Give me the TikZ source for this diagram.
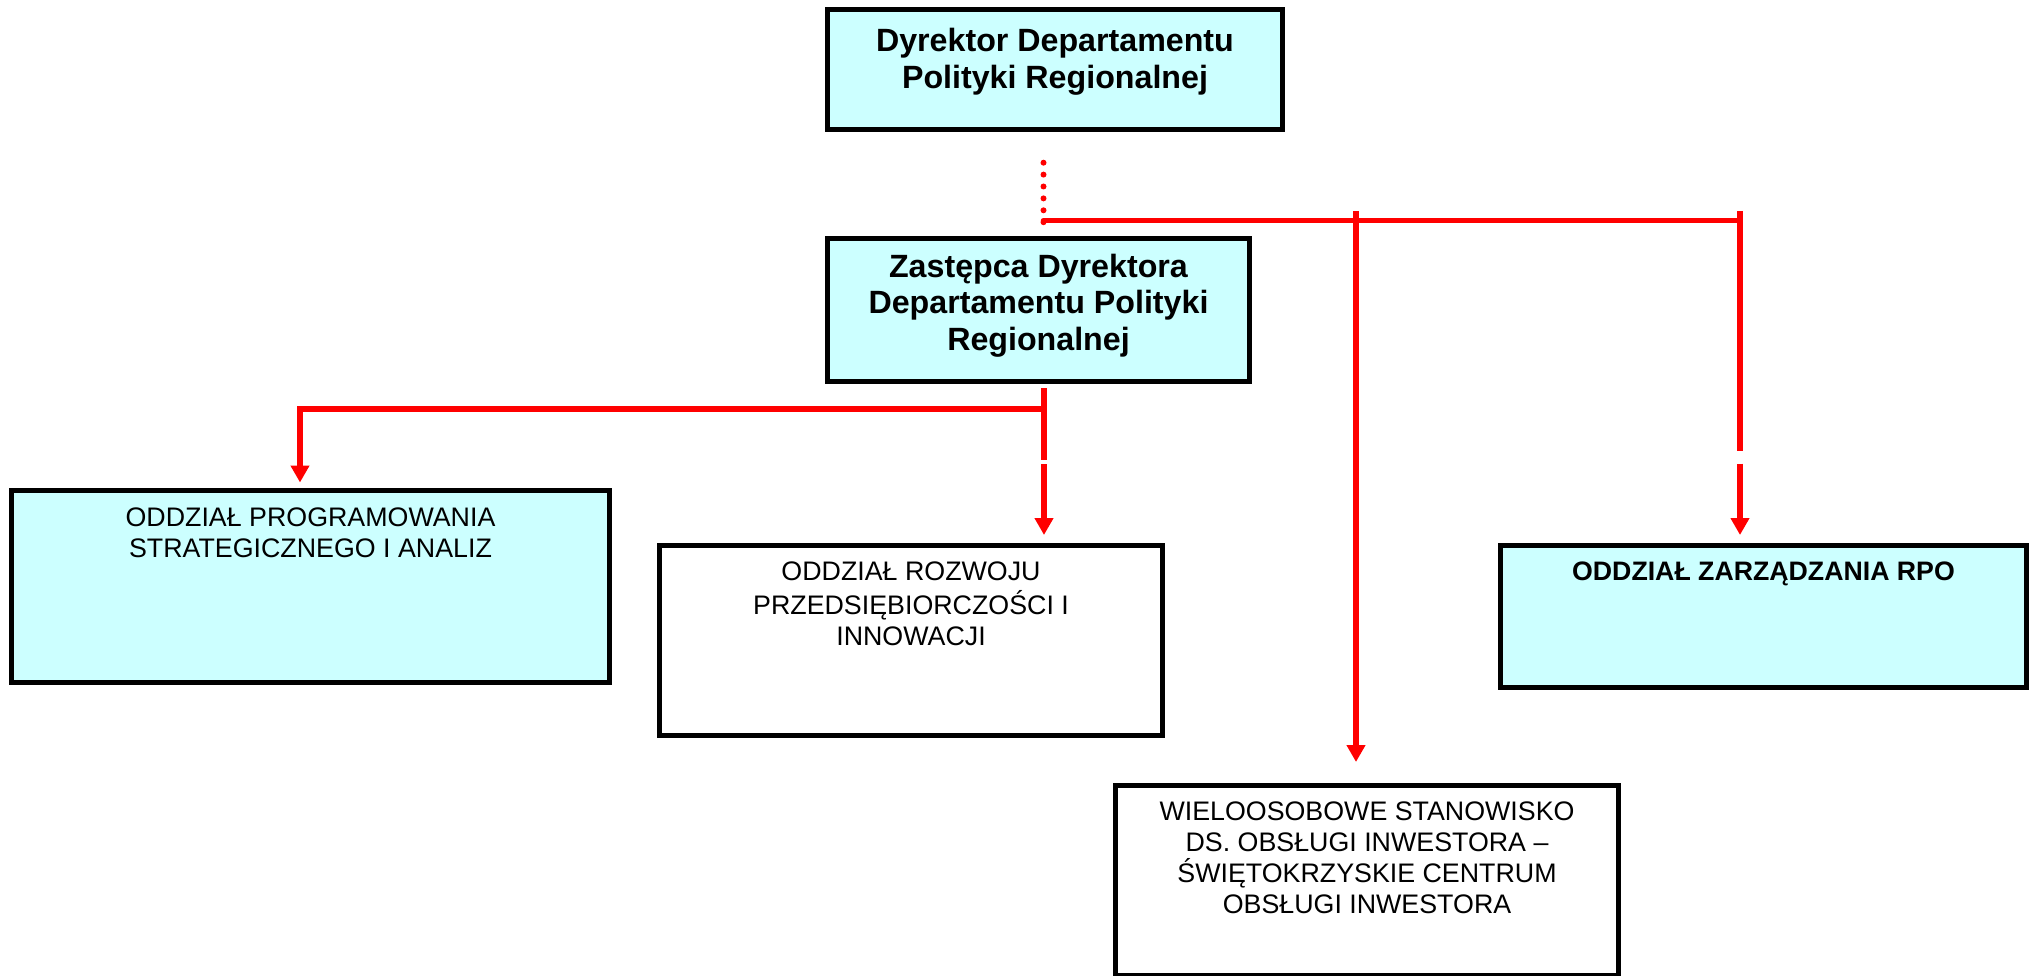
\documentclass[tikz,border=0pt]{standalone}
\usepackage{fontspec}
\setmainfont{Liberation Sans}
\usetikzlibrary{arrows.meta,calc}
\definecolor{orgcyan}{RGB}{204,255,255}
\definecolor{orgred}{RGB}{255,0,0}
% box body: width, height, gap above first line, font, text
\newcommand\orgbody[5]{\parbox[c][#2][t]{#1}{#4\centering\vspace*{#3}\strut #5\par}}
\newcommand\headfont{\fontsize{32.2}{36.5}\selectfont\bfseries}
\newcommand\unitfont{\fontsize{26.8}{31}\selectfont}
\newcommand\unitbold{\fontsize{26.7}{31}\selectfont\bfseries}
\begin{document}
\begin{tikzpicture}[x=1pt,y=-1pt,
  orgbox/.style={draw=black, line width=5pt, inner sep=0pt},
  headbox/.style={orgbox, fill=orgcyan},
  plainbox/.style={orgbox, fill=white},
  redline/.style={draw=orgred, line width=5.5pt},
  redarrow/.style={redline, line join=miter, -{Triangle[length=17pt,width=18pt]}},
  dotline/.style={draw=orgred, line width=6pt, line cap=round, dash pattern=on 0pt off 11.9pt}]
\fill[white] (0,0) rectangle (2038,976);
\useasboundingbox (0,0) rectangle (2038,976);

% boxes
\node[headbox] (dyr) at (1055,69.5)
  {\orgbody{455pt}{120pt}{16.8pt}{\headfont}{Dyrektor Departamentu\\Polityki Regionalnej}};
\node[headbox] (zast) at (1038.5,310)
  {\orgbody{422pt}{143pt}{13.1pt}{\headfont}{Zastępca Dyrektora\\Departamentu Polityki\\Regionalnej}};
\node[headbox] (prog) at (310.5,586)
  {\orgbody{598pt}{192pt}{15pt}{\unitfont}{ODDZIAŁ PROGRAMOWANIA\\STRATEGICZNEGO I ANALIZ}};
\node[plainbox] (rozw) at (911,640.5)
  {\orgbody{503pt}{190pt}{12.8pt}{\unitfont}{ODDZIAŁ ROZWOJU\\PRZEDSIĘBIORCZOŚCI I\\INNOWACJI}};
\node[headbox] (rpo) at (1763.5,616.5)
  {\orgbody{526pt}{142pt}{12.8pt}{\unitbold}{ODDZIAŁ ZARZĄDZANIA RPO}};
\node[plainbox] (wie) at (1367,880.25)
  {\orgbody{503pt}{189.5pt}{13.5pt}{\unitfont}{WIELOOSOBOWE STANOWISKO\\DS. OBSŁUGI INWESTORA –\\ŚWIĘTOKRZYSKIE CENTRUM\\OBSŁUGI INWESTORA}};

% junction points
\coordinate (dtop) at (1043.5,162.7);
\coordinate (hub) at (1043.5,222.2);
\coordinate (midtop) at (1356,211);
\coordinate (righttop) at (1740,211);
\coordinate (zjoin) at (1044,409);
\coordinate (leftturn) at (300,409);

% director to the upper bus
\draw[dotline] (dtop) -- (hub);
\draw[redline, line cap=round] (1043.5,220.5) -- (1740,220.5);
\draw[redarrow] (midtop) -- ($(wie.north -| midtop)+(0,-21)$);
\draw[redarrow, dash pattern=on 240pt off 12.5pt on 2000pt]
  (righttop) -- ($(rpo.north -| righttop)+(0,-8)$);

% deputy director to the departments
\draw[redarrow, dash pattern=on 72pt off 4pt on 2000pt]
  ($(zast.south -| zjoin)+(0,4)$) -- ($(rozw.north -| zjoin)+(0,-8)$);
\draw[redarrow] (zjoin) -- (leftturn) -- ($(prog.north -| leftturn)+(0,-5)$);
\end{tikzpicture}
\end{document}
